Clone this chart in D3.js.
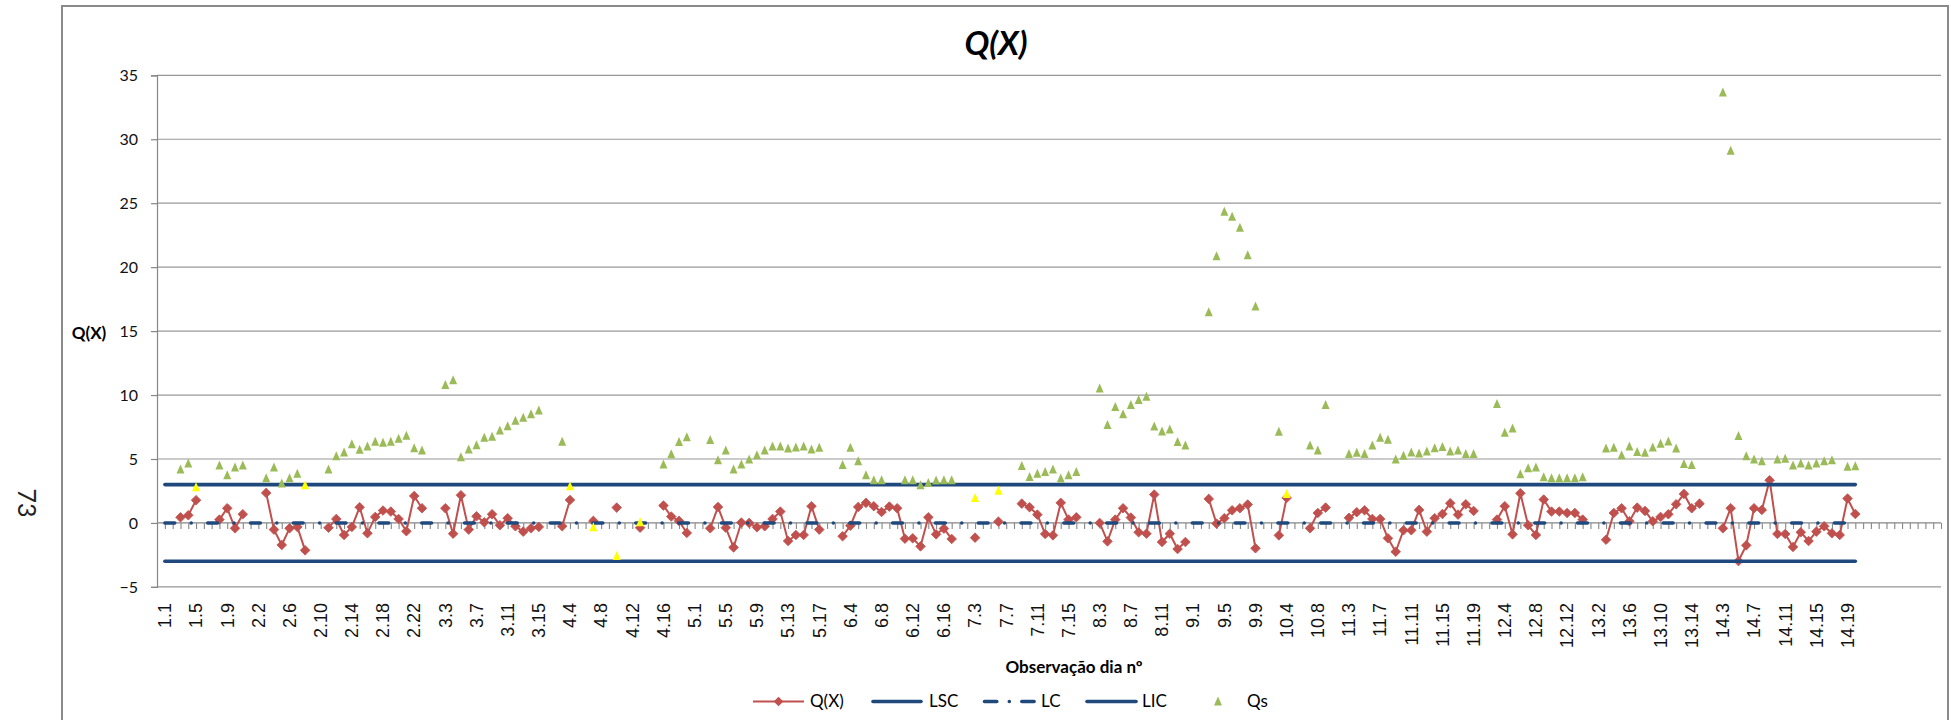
<!DOCTYPE html>
<html>
<head>
<meta charset="utf-8">
<script src="https://cdn.jsdelivr.net/npm/d3@7"></script>
<style>
  html, body { margin: 0; padding: 0; background: #ffffff; }
  svg { display: block; }
</style>
</head>
<body>
<svg id="chart" width="1951" height="720"></svg>
<script>
// ---- data ---------------------------------------------------------------
// observation days per group (group.day labels on the category axis)
const groupDays = [11, 23, 15, 19, 17, 17, 16, 14, 9, 9, 19, 14, 15, 20];
// empty rows left at the end of the category range
const trailingBlankRows = 11;

// Q(X) statistic, one array per group
const qxByGroup = [
  [null, null, 0.44, 0.60, 1.78, null, null, 0.26, 1.15, -0.42, 0.68],
  [null, null, 2.35, -0.52, -1.72, -0.42, -0.31, -2.14, null, null, -0.37, 0.31, -0.94, -0.31, 1.23, -0.81, 0.47, 0.97, 0.89, 0.31, -0.65, 2.11, 1.15],
  [null, null, 1.15, -0.84, 2.17, -0.52, 0.52, 0.05, 0.68, -0.18, 0.37, -0.26, -0.68, -0.42, -0.31],
  [null, null, -0.26, 1.80, null, null, 0.16, null, null, 1.20, null, null, -0.37, null, null, 1.36, 0.50, 0.16, -0.78],
  [null, null, -0.42, 1.25, -0.37, -1.91, 0.03, 0.00, -0.34, -0.26, 0.31, 0.89, -1.41, -0.94, -0.94, 1.31, -0.52],
  [null, null, -1.04, -0.21, 1.25, 1.57, 1.31, 0.86, 1.28, 1.15, -1.23, -1.20, -1.83, 0.44, -0.89, -0.44, -1.25],
  [null, null, -1.15, null, null, 0.10, null, null, 1.51, 1.23, 0.65, -0.86, -0.97, 1.57, 0.26, 0.44],
  [null, null, 0.00, -1.44, 0.26, 1.15, 0.42, -0.73, -0.84, 2.22, -1.49, -0.84, -2.04, -1.49],
  [null, null, 1.88, -0.05, 0.37, 0.99, 1.15, 1.44, -1.98],
  [null, null, -0.97, 1.96, null, null, -0.42, 0.78, 1.20],
  [null, null, 0.40, 0.84, 0.99, 0.31, 0.31, -1.20, -2.25, -0.57, -0.57, 1.02, -0.68, 0.37, 0.70, 1.54, 0.65, 1.46, 0.94],
  [null, null, 0.26, 1.31, -0.89, 2.32, -0.18, -0.94, 1.83, 0.89, 0.89, 0.78, 0.78, 0.26],
  [null, null, -1.31, 0.78, 1.15, 0.13, 1.20, 0.94, 0.13, 0.47, 0.68, 1.46, 2.27, 1.15, 1.51],
  [null, null, -0.42, 1.15, -2.98, -1.75, 1.15, 1.02, 3.34, -0.86, -0.86, -1.88, -0.73, -1.41, -0.68, -0.26, -0.81, -0.94, 1.91, 0.70]
];

// Qs statistic, one array per group
const qsByGroup = [
  [null, null, 4.18, 4.65, 2.79, null, null, 4.49, 3.73, 4.34, 4.49],
  [null, null, 3.50, 4.33, 3.08, 3.50, 3.84, 2.95, null, null, 4.18, 5.22, 5.51, 6.16, 5.72, 5.98, 6.34, 6.27, 6.34, 6.58, 6.81, 5.85, 5.67],
  [null, null, 10.78, 11.15, 5.14, 5.74, 6.08, 6.66, 6.74, 7.23, 7.57, 7.99, 8.22, 8.49, 8.80],
  [null, null, 6.34, 2.87, null, null, -0.34, null, null, -2.58, null, null, 0.05, null, null, 4.57, 5.38, 6.32, 6.71],
  [null, null, 6.48, 4.91, 5.67, 4.18, 4.57, 4.96, 5.30, 5.67, 5.98, 5.98, 5.82, 5.90, 5.98, 5.74, 5.87],
  [null, null, 4.54, 5.87, 4.83, 3.73, 3.34, 3.34, null, null, 3.34, 3.34, 2.95, 3.13, 3.32, 3.34, 3.34],
  [null, null, 1.96, null, null, 2.51, null, null, 4.46, 3.60, 3.84, 3.99, 4.18, 3.47, 3.73, 3.99],
  [null, null, 10.52, 7.65, 9.06, 8.49, 9.22, 9.61, 9.87, 7.55, 7.15, 7.31, 6.32, 6.06],
  [null, null, 16.47, 20.85, 24.34, 23.95, 23.08, 20.93, 16.93],
  [null, null, 7.13, 2.27, null, null, 6.06, 5.67, 9.22],
  [null, null, 5.40, 5.48, 5.40, 6.06, 6.66, 6.50, 4.96, 5.25, 5.51, 5.43, 5.59, 5.85, 5.93, 5.59, 5.67, 5.40, 5.40],
  [null, null, 9.30, 7.05, 7.39, 3.81, 4.28, 4.33, 3.58, 3.50, 3.50, 3.50, 3.50, 3.58],
  [null, null, 5.82, 5.87, 5.30, 5.98, 5.54, 5.48, 5.90, 6.19, 6.37, 5.82, 4.60, 4.54, null],
  [null, null, 33.66, 29.11, 6.79, 5.22, 4.96, 4.83, null, 4.96, 5.01, 4.49, 4.65, 4.49, 4.65, 4.83, 4.91, null, 4.39, 4.44]
];

// Qs points shown in yellow
const qsHighlighted = ["1.5", "2.8", "4.4", "4.7", "4.10", "4.13", "7.3", "7.6", "10.4"];

// control limits
const LSC = 3;
const LC = 0;
const LIC = -3;

// axis ticks
const yTicks = [-5, 0, 5, 10, 15, 20, 25, 30, 35];
const xTickLabels = ["1.1", "1.5", "1.9", "2.2", "2.6", "2.10", "2.14", "2.18", "2.22", "3.3", "3.7", "3.11", "3.15",
  "4.4", "4.8", "4.12", "4.16", "5.1", "5.5", "5.9", "5.13", "5.17", "6.4", "6.8", "6.12", "6.16", "7.3", "7.7",
  "7.11", "7.15", "8.3", "8.7", "8.11", "9.1", "9.5", "9.9", "10.4", "10.8", "11.3", "11.7", "11.11", "11.15",
  "11.19", "12.4", "12.8", "12.12", "13.2", "13.6", "13.10", "13.14", "14.3", "14.7", "14.11", "14.15", "14.19"];

// ---- colours & fonts ----------------------------------------------------
const RED = "#C0504D", BLUE = "#1F497D", GREEN = "#9BBB59", YELLOW = "#FFFF00";
const GRID = "#979797", AXIS = "#868686";
const UI_FONT = "Lato, 'Open Sans', sans-serif";
const TICK_FONT = "'Liberation Sans', Arial, sans-serif";

// ---- build rows ---------------------------------------------------------
const categories = [];
groupDays.forEach((n, g) => { for (let d = 1; d <= n; d++) categories.push(`${g + 1}.${d}`); });
const dataRows = categories.length;
for (let k = 0; k < trailingBlankRows; k++) categories.push("");

const qx = qxByGroup.flat();
const qs = qsByGroup.flat();
const rows = d3.range(dataRows).map(i => ({ i, cat: categories[i], qx: qx[i], qs: qs[i] }));

// ---- layout -------------------------------------------------------------
const svg = d3.select("#chart");
const plotLeft = 157, plotRight = 1941;

const x = d3.scalePoint().domain(d3.range(categories.length)).range([164.9, plotRight]);
const y = d3.scaleLinear().domain([-5, 35]).range([586.9, 75.3]);

// chart frame
svg.append("rect").attr("x", 62).attr("y", 6).attr("width", 1886).attr("height", 740)
  .attr("fill", "#fff").attr("stroke", "#8a8a8a").attr("stroke-width", 2);

// page number printed beside the chart
svg.append("text").attr("transform", "translate(18,503) rotate(90)")
  .attr("text-anchor", "middle").attr("font-family", UI_FONT).attr("font-size", 25)
  .attr("fill", "#222").text("73");

// title
svg.append("text").attr("x", 996).attr("y", 55).attr("text-anchor", "middle")
  .attr("font-family", UI_FONT).attr("font-size", 33).attr("font-weight", "bold")
  .attr("font-style", "italic").attr("fill", "#000").text("Q(X)");

// horizontal gridlines
svg.append("g").selectAll("line").data(yTicks.filter(v => v !== 0)).join("line")
  .attr("x1", plotLeft).attr("x2", plotRight)
  .attr("y1", d => y(d)).attr("y2", d => y(d))
  .attr("stroke", GRID).attr("stroke-width", 1.2);

// value axis
const yAxis = svg.append("g").attr("transform", `translate(${plotLeft},0)`)
  .call(d3.axisLeft(y).tickValues(yTicks).tickSize(6).tickPadding(13).tickFormat(d3.format("d")));
yAxis.select(".domain").attr("stroke", AXIS).attr("stroke-width", 1.2);
yAxis.selectAll(".tick line").attr("stroke", AXIS).attr("stroke-width", 1.2);
yAxis.selectAll(".tick text").attr("font-family", UI_FONT).attr("font-size", 16).attr("fill", "#111");

svg.append("text").attr("x", 89).attr("y", 339).attr("text-anchor", "middle")
  .attr("font-family", UI_FONT).attr("font-size", 17).attr("font-weight", "bold").attr("fill", "#000")
  .text("Q(X)");

// category axis crossing at zero
const x0 = y(0);
svg.append("line").attr("x1", plotLeft).attr("x2", plotRight).attr("y1", x0).attr("y2", x0)
  .attr("stroke", AXIS).attr("stroke-width", 1.2);
const xAxis = svg.append("g").attr("transform", `translate(0,${x0})`)
  .call(d3.axisBottom(x).tickSize(6).tickFormat(""));
xAxis.select(".domain").remove();
xAxis.selectAll(".tick line").attr("stroke", AXIS).attr("stroke-width", 1.1);

// rotated category labels
svg.append("g").selectAll("text").data(xTickLabels).join("text")
  .attr("transform", d => `translate(${x(categories.indexOf(d))},603) rotate(-90)`)
  .attr("text-anchor", "end").attr("dy", "0.35em")
  .attr("font-family", TICK_FONT).attr("font-size", 18).attr("fill", "#111")
  .text(d => d);

svg.append("text").attr("x", 1074).attr("y", 673).attr("text-anchor", "middle")
  .attr("font-family", UI_FONT).attr("font-size", 17).attr("font-weight", "bold").attr("fill", "#000")
  .text("Observação dia nº");

// ---- series -------------------------------------------------------------
const diamond = "M0,-4.8L4.8,0L0,4.8L-4.8,0Z";
const triangle = "M0,-5L4,4L-4,4Z";

// Q(X): line with gaps at missing values, diamond markers
svg.append("path").datum(rows)
  .attr("fill", "none").attr("stroke", RED).attr("stroke-width", 2)
  .attr("d", d3.line().defined(d => d.qx != null).x(d => x(d.i)).y(d => y(d.qx)));
svg.append("g").selectAll("path").data(rows.filter(d => d.qx != null)).join("path")
  .attr("transform", d => `translate(${x(d.i)},${y(d.qx)})`)
  .attr("d", diamond).attr("fill", RED).attr("stroke", RED).attr("stroke-width", 0.8);

// control limits across the observed rows
const limitLine = v => d3.line().x(d => x(d.i)).y(() => y(v))(rows);
svg.append("path").attr("d", limitLine(LSC)).attr("fill", "none")
  .attr("stroke", BLUE).attr("stroke-width", 3.6).attr("stroke-linecap", "round");
svg.append("path").attr("d", limitLine(LC)).attr("fill", "none")
  .attr("stroke", BLUE).attr("stroke-width", 3.6).attr("stroke-linecap", "round")
  .attr("stroke-dasharray", "9.8,16.5,0.01,16.5");
svg.append("path").attr("d", limitLine(LIC)).attr("fill", "none")
  .attr("stroke", BLUE).attr("stroke-width", 3.6).attr("stroke-linecap", "round");

// Qs markers
svg.append("g").selectAll("path").data(rows.filter(d => d.qs != null)).join("path")
  .attr("transform", d => `translate(${x(d.i)},${y(d.qs)})`)
  .attr("d", triangle)
  .attr("fill", d => qsHighlighted.includes(d.cat) ? YELLOW : GREEN);

// ---- legend -------------------------------------------------------------
const ly = 701.5;
const legend = svg.append("g").attr("font-family", UI_FONT).attr("font-size", 17).attr("fill", "#000");
legend.append("line").attr("x1", 753).attr("x2", 804).attr("y1", ly).attr("y2", ly)
  .attr("stroke", RED).attr("stroke-width", 2);
legend.append("path").attr("transform", `translate(778.5,${ly})`).attr("d", diamond).attr("fill", RED);
legend.append("text").attr("x", 810).attr("y", ly).attr("dy", "0.35em").text("Q(X)");

legend.append("line").attr("x1", 873).attr("x2", 921).attr("y1", ly).attr("y2", ly)
  .attr("stroke", BLUE).attr("stroke-width", 3.6).attr("stroke-linecap", "round");
legend.append("text").attr("x", 929).attr("y", ly).attr("dy", "0.35em").text("LSC");

legend.append("line").attr("x1", 984.5).attr("x2", 1034.5).attr("y1", ly).attr("y2", ly)
  .attr("stroke", BLUE).attr("stroke-width", 3.6).attr("stroke-linecap", "round")
  .attr("stroke-dasharray", "12.3,12.5,0.01,12.5");
legend.append("text").attr("x", 1041).attr("y", ly).attr("dy", "0.35em").text("LC");

legend.append("line").attr("x1", 1087).attr("x2", 1136).attr("y1", ly).attr("y2", ly)
  .attr("stroke", BLUE).attr("stroke-width", 3.6).attr("stroke-linecap", "round");
legend.append("text").attr("x", 1142).attr("y", ly).attr("dy", "0.35em").text("LIC");

legend.append("path").attr("transform", `translate(1218,${ly})`).attr("d", triangle).attr("fill", GREEN);
legend.append("text").attr("x", 1247).attr("y", ly).attr("dy", "0.35em").text("Qs");
</script>
</body>
</html>
